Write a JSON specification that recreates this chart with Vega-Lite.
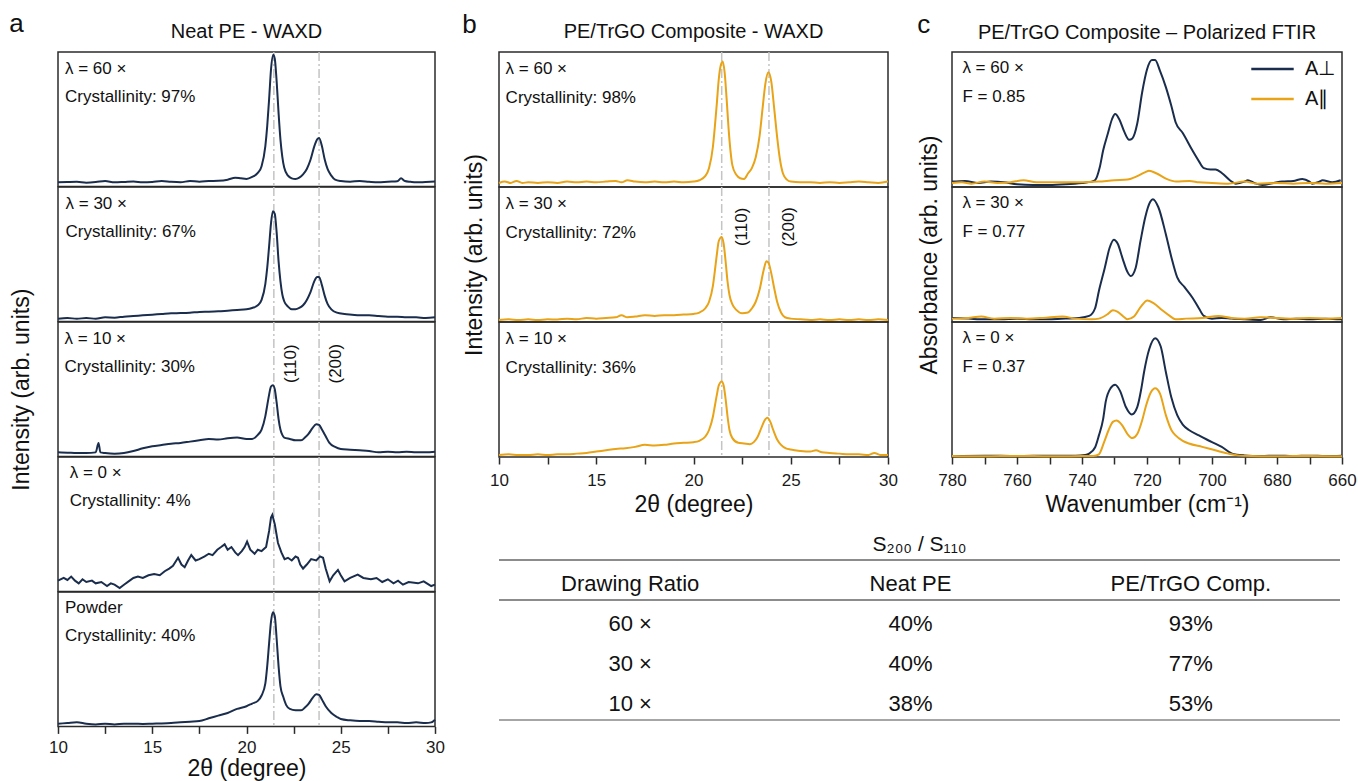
{
"$schema": "https://vega.github.io/schema/vega-lite/v6.json",
"padding": {"left": 9, "top": 10, "right": 0, "bottom": 0},
"config": {
  "font": "Liberation Sans",
  "view": {"stroke": "#2b2b2b", "strokeWidth": 1.5},
  "axis": {"grid": false, "domain": false, "tickColor": "#2b2b2b", "tickWidth": 1.5, "tickSize": 7, "labelFontSize": 17, "labelColor": "#1a1a1a", "labelPadding": 5, "labelFlush": false, "labelOverlap": false, "titleFontSize": 23, "titleFontWeight": "normal", "titleColor": "#111", "titlePadding": 3},
  "title": {"fontWeight": "normal", "fontSize": 20, "color": "#111"},
  "text": {"font": "Liberation Sans", "fontSize": 17, "color": "#111"}
},
"datasets": {
  "refsA": [{"twotheta": 21.45, "hkl": "(110)"}, {"twotheta": 23.85, "hkl": "(200)"}],
  "refsB": [{"twotheta": 21.45, "hkl": "(110)"}, {"twotheta": 23.88, "hkl": "(200)"}],
  "notes": [
    {"sample": "PE 60x", "note": "λ = 60 ×\nCrystallinity: 97%"},
    {"sample": "PE 30x", "note": "λ = 30 ×\nCrystallinity: 67%"},
    {"sample": "PE 10x", "note": "λ = 10 ×\nCrystallinity: 30%"},
    {"sample": "PE 0x", "note": "λ = 0 ×\nCrystallinity: 4%"},
    {"sample": "PE powder", "note": "Powder\nCrystallinity: 40%"},
    {"sample": "Comp 60x", "note": "λ = 60 ×\nCrystallinity: 98%"},
    {"sample": "Comp 30x", "note": "λ = 30 ×\nCrystallinity: 72%"},
    {"sample": "Comp 10x", "note": "λ = 10 ×\nCrystallinity: 36%"},
    {"sample": "FTIR 60x", "note": "λ = 60 ×\nF = 0.85"},
    {"sample": "FTIR 30x", "note": "λ = 30 ×\nF = 0.77"},
    {"sample": "FTIR 0x", "note": "λ = 0 ×\nF = 0.37"}
  ],
  "table": [
    {"row": "header", "col": "ratio", "text": "Drawing Ratio"},
    {"row": "header", "col": "neat", "text": "Neat PE"},
    {"row": "header", "col": "comp", "text": "PE/TrGO Comp."},
    {"row": "60", "col": "ratio", "text": "60 ×"},
    {"row": "60", "col": "neat", "text": "40%"},
    {"row": "60", "col": "comp", "text": "93%"},
    {"row": "30", "col": "ratio", "text": "30 ×"},
    {"row": "30", "col": "neat", "text": "40%"},
    {"row": "30", "col": "comp", "text": "77%"},
    {"row": "10", "col": "ratio", "text": "10 ×"},
    {"row": "10", "col": "neat", "text": "38%"},
    {"row": "10", "col": "comp", "text": "53%"}
  ],
  "tableRules": [{"row": "header", "edge": "top"}, {"row": "60", "edge": "top"}, {"row": "10", "edge": "bottom"}],
  "waxd": [
    {"sample":"PE 60x","twotheta":10,"intensity":0.03},{"sample":"PE 60x","twotheta":10.5,"intensity":0.033},{"sample":"PE 60x","twotheta":11,"intensity":0.035},{"sample":"PE 60x","twotheta":11.5,"intensity":0.028},{"sample":"PE 60x","twotheta":12,"intensity":0.032},{"sample":"PE 60x","twotheta":12.5,"intensity":0.04},{"sample":"PE 60x","twotheta":13,"intensity":0.03},{"sample":"PE 60x","twotheta":13.5,"intensity":0.033},{"sample":"PE 60x","twotheta":14,"intensity":0.037},{"sample":"PE 60x","twotheta":14.5,"intensity":0.03},{"sample":"PE 60x","twotheta":15,"intensity":0.033},{"sample":"PE 60x","twotheta":15.5,"intensity":0.04},{"sample":"PE 60x","twotheta":16,"intensity":0.034},{"sample":"PE 60x","twotheta":16.5,"intensity":0.031},{"sample":"PE 60x","twotheta":17,"intensity":0.04},{"sample":"PE 60x","twotheta":17.5,"intensity":0.035},{"sample":"PE 60x","twotheta":18,"intensity":0.04},{"sample":"PE 60x","twotheta":18.5,"intensity":0.042},{"sample":"PE 60x","twotheta":19,"intensity":0.05},{"sample":"PE 60x","twotheta":19.4,"intensity":0.065},{"sample":"PE 60x","twotheta":19.7,"intensity":0.06},{"sample":"PE 60x","twotheta":20,"intensity":0.055},{"sample":"PE 60x","twotheta":20.3,"intensity":0.07},{"sample":"PE 60x","twotheta":20.6,"intensity":0.1},{"sample":"PE 60x","twotheta":20.8,"intensity":0.15},{"sample":"PE 60x","twotheta":21,"intensity":0.3},{"sample":"PE 60x","twotheta":21.1,"intensity":0.45},{"sample":"PE 60x","twotheta":21.2,"intensity":0.65},{"sample":"PE 60x","twotheta":21.3,"intensity":0.87},{"sample":"PE 60x","twotheta":21.42,"intensity":0.98},{"sample":"PE 60x","twotheta":21.5,"intensity":0.95},{"sample":"PE 60x","twotheta":21.6,"intensity":0.78},{"sample":"PE 60x","twotheta":21.7,"intensity":0.55},{"sample":"PE 60x","twotheta":21.8,"intensity":0.35},{"sample":"PE 60x","twotheta":21.9,"intensity":0.22},{"sample":"PE 60x","twotheta":22,"intensity":0.14},{"sample":"PE 60x","twotheta":22.2,"intensity":0.08},{"sample":"PE 60x","twotheta":22.4,"intensity":0.06},{"sample":"PE 60x","twotheta":22.6,"intensity":0.055},{"sample":"PE 60x","twotheta":22.8,"intensity":0.065},{"sample":"PE 60x","twotheta":23,"intensity":0.09},{"sample":"PE 60x","twotheta":23.2,"intensity":0.13},{"sample":"PE 60x","twotheta":23.4,"intensity":0.2},{"sample":"PE 60x","twotheta":23.6,"intensity":0.3},{"sample":"PE 60x","twotheta":23.75,"intensity":0.35},{"sample":"PE 60x","twotheta":23.85,"intensity":0.36},{"sample":"PE 60x","twotheta":24,"intensity":0.3},{"sample":"PE 60x","twotheta":24.15,"intensity":0.2},{"sample":"PE 60x","twotheta":24.3,"intensity":0.13},{"sample":"PE 60x","twotheta":24.5,"intensity":0.08},{"sample":"PE 60x","twotheta":24.7,"intensity":0.05},{"sample":"PE 60x","twotheta":25,"intensity":0.04},{"sample":"PE 60x","twotheta":25.5,"intensity":0.035},{"sample":"PE 60x","twotheta":26,"intensity":0.04},{"sample":"PE 60x","twotheta":26.5,"intensity":0.034},{"sample":"PE 60x","twotheta":27,"intensity":0.03},{"sample":"PE 60x","twotheta":27.5,"intensity":0.035},{"sample":"PE 60x","twotheta":28,"intensity":0.038},{"sample":"PE 60x","twotheta":28.2,"intensity":0.06},{"sample":"PE 60x","twotheta":28.4,"intensity":0.04},{"sample":"PE 60x","twotheta":28.7,"intensity":0.034},{"sample":"PE 60x","twotheta":29,"intensity":0.03},{"sample":"PE 60x","twotheta":29.5,"intensity":0.033},{"sample":"PE 60x","twotheta":30,"intensity":0.036},

    {"sample":"PE 30x","twotheta":10,"intensity":0.02},{"sample":"PE 30x","twotheta":10.5,"intensity":0.025},{"sample":"PE 30x","twotheta":11,"intensity":0.02},{"sample":"PE 30x","twotheta":11.5,"intensity":0.025},{"sample":"PE 30x","twotheta":12,"intensity":0.02},{"sample":"PE 30x","twotheta":12.5,"intensity":0.03},{"sample":"PE 30x","twotheta":13,"intensity":0.028},{"sample":"PE 30x","twotheta":13.5,"intensity":0.035},{"sample":"PE 30x","twotheta":14,"intensity":0.04},{"sample":"PE 30x","twotheta":14.5,"intensity":0.045},{"sample":"PE 30x","twotheta":15,"intensity":0.05},{"sample":"PE 30x","twotheta":15.5,"intensity":0.055},{"sample":"PE 30x","twotheta":16,"intensity":0.06},{"sample":"PE 30x","twotheta":16.5,"intensity":0.062},{"sample":"PE 30x","twotheta":17,"intensity":0.065},{"sample":"PE 30x","twotheta":17.5,"intensity":0.07},{"sample":"PE 30x","twotheta":18,"intensity":0.072},{"sample":"PE 30x","twotheta":18.5,"intensity":0.075},{"sample":"PE 30x","twotheta":19,"intensity":0.08},{"sample":"PE 30x","twotheta":19.5,"intensity":0.085},{"sample":"PE 30x","twotheta":20,"intensity":0.09},{"sample":"PE 30x","twotheta":20.3,"intensity":0.1},{"sample":"PE 30x","twotheta":20.6,"intensity":0.12},{"sample":"PE 30x","twotheta":20.8,"intensity":0.16},{"sample":"PE 30x","twotheta":21,"intensity":0.28},{"sample":"PE 30x","twotheta":21.1,"intensity":0.4},{"sample":"PE 30x","twotheta":21.2,"intensity":0.56},{"sample":"PE 30x","twotheta":21.3,"intensity":0.73},{"sample":"PE 30x","twotheta":21.4,"intensity":0.82},{"sample":"PE 30x","twotheta":21.5,"intensity":0.8},{"sample":"PE 30x","twotheta":21.6,"intensity":0.66},{"sample":"PE 30x","twotheta":21.7,"intensity":0.45},{"sample":"PE 30x","twotheta":21.8,"intensity":0.3},{"sample":"PE 30x","twotheta":21.9,"intensity":0.2},{"sample":"PE 30x","twotheta":22,"intensity":0.15},{"sample":"PE 30x","twotheta":22.2,"intensity":0.11},{"sample":"PE 30x","twotheta":22.4,"intensity":0.09},{"sample":"PE 30x","twotheta":22.6,"intensity":0.09},{"sample":"PE 30x","twotheta":22.8,"intensity":0.1},{"sample":"PE 30x","twotheta":23,"intensity":0.12},{"sample":"PE 30x","twotheta":23.2,"intensity":0.16},{"sample":"PE 30x","twotheta":23.4,"intensity":0.22},{"sample":"PE 30x","twotheta":23.6,"intensity":0.3},{"sample":"PE 30x","twotheta":23.75,"intensity":0.33},{"sample":"PE 30x","twotheta":23.85,"intensity":0.33},{"sample":"PE 30x","twotheta":24,"intensity":0.27},{"sample":"PE 30x","twotheta":24.15,"intensity":0.19},{"sample":"PE 30x","twotheta":24.3,"intensity":0.13},{"sample":"PE 30x","twotheta":24.5,"intensity":0.09},{"sample":"PE 30x","twotheta":24.8,"intensity":0.065},{"sample":"PE 30x","twotheta":25.2,"intensity":0.055},{"sample":"PE 30x","twotheta":25.6,"intensity":0.05},{"sample":"PE 30x","twotheta":26,"intensity":0.045},{"sample":"PE 30x","twotheta":26.5,"intensity":0.045},{"sample":"PE 30x","twotheta":27,"intensity":0.04},{"sample":"PE 30x","twotheta":27.5,"intensity":0.035},{"sample":"PE 30x","twotheta":28,"intensity":0.035},{"sample":"PE 30x","twotheta":28.5,"intensity":0.03},{"sample":"PE 30x","twotheta":29,"intensity":0.03},{"sample":"PE 30x","twotheta":29.5,"intensity":0.025},{"sample":"PE 30x","twotheta":30,"intensity":0.03},

    {"sample":"PE 10x","twotheta":10,"intensity":0.03},{"sample":"PE 10x","twotheta":10.5,"intensity":0.028},{"sample":"PE 10x","twotheta":11,"intensity":0.025},{"sample":"PE 10x","twotheta":11.5,"intensity":0.025},{"sample":"PE 10x","twotheta":12,"intensity":0.03},{"sample":"PE 10x","twotheta":12.15,"intensity":0.1},{"sample":"PE 10x","twotheta":12.25,"intensity":0.03},{"sample":"PE 10x","twotheta":12.5,"intensity":0.025},{"sample":"PE 10x","twotheta":13,"intensity":0.02},{"sample":"PE 10x","twotheta":13.5,"intensity":0.025},{"sample":"PE 10x","twotheta":14,"intensity":0.04},{"sample":"PE 10x","twotheta":14.5,"intensity":0.06},{"sample":"PE 10x","twotheta":15,"intensity":0.075},{"sample":"PE 10x","twotheta":15.5,"intensity":0.085},{"sample":"PE 10x","twotheta":16,"intensity":0.095},{"sample":"PE 10x","twotheta":16.5,"intensity":0.1},{"sample":"PE 10x","twotheta":17,"intensity":0.11},{"sample":"PE 10x","twotheta":17.5,"intensity":0.12},{"sample":"PE 10x","twotheta":18,"intensity":0.13},{"sample":"PE 10x","twotheta":18.5,"intensity":0.125},{"sample":"PE 10x","twotheta":19,"intensity":0.135},{"sample":"PE 10x","twotheta":19.5,"intensity":0.14},{"sample":"PE 10x","twotheta":20,"intensity":0.13},{"sample":"PE 10x","twotheta":20.3,"intensity":0.13},{"sample":"PE 10x","twotheta":20.6,"intensity":0.16},{"sample":"PE 10x","twotheta":20.8,"intensity":0.2},{"sample":"PE 10x","twotheta":21,"intensity":0.3},{"sample":"PE 10x","twotheta":21.1,"intensity":0.38},{"sample":"PE 10x","twotheta":21.2,"intensity":0.46},{"sample":"PE 10x","twotheta":21.3,"intensity":0.52},{"sample":"PE 10x","twotheta":21.4,"intensity":0.53},{"sample":"PE 10x","twotheta":21.5,"intensity":0.5},{"sample":"PE 10x","twotheta":21.6,"intensity":0.4},{"sample":"PE 10x","twotheta":21.7,"intensity":0.28},{"sample":"PE 10x","twotheta":21.8,"intensity":0.2},{"sample":"PE 10x","twotheta":21.9,"intensity":0.16},{"sample":"PE 10x","twotheta":22,"intensity":0.14},{"sample":"PE 10x","twotheta":22.3,"intensity":0.13},{"sample":"PE 10x","twotheta":22.6,"intensity":0.12},{"sample":"PE 10x","twotheta":22.9,"intensity":0.12},{"sample":"PE 10x","twotheta":23.1,"intensity":0.14},{"sample":"PE 10x","twotheta":23.3,"intensity":0.17},{"sample":"PE 10x","twotheta":23.5,"intensity":0.21},{"sample":"PE 10x","twotheta":23.7,"intensity":0.24},{"sample":"PE 10x","twotheta":23.85,"intensity":0.235},{"sample":"PE 10x","twotheta":24,"intensity":0.2},{"sample":"PE 10x","twotheta":24.2,"intensity":0.15},{"sample":"PE 10x","twotheta":24.4,"intensity":0.1},{"sample":"PE 10x","twotheta":24.7,"intensity":0.07},{"sample":"PE 10x","twotheta":25,"intensity":0.055},{"sample":"PE 10x","twotheta":25.5,"intensity":0.05},{"sample":"PE 10x","twotheta":26,"intensity":0.045},{"sample":"PE 10x","twotheta":26.5,"intensity":0.04},{"sample":"PE 10x","twotheta":27,"intensity":0.03},{"sample":"PE 10x","twotheta":27.5,"intensity":0.035},{"sample":"PE 10x","twotheta":28,"intensity":0.03},{"sample":"PE 10x","twotheta":28.5,"intensity":0.035},{"sample":"PE 10x","twotheta":29,"intensity":0.03},{"sample":"PE 10x","twotheta":29.5,"intensity":0.03},{"sample":"PE 10x","twotheta":30,"intensity":0.035},

    {"sample":"PE 0x","twotheta":10,"intensity":0.08},{"sample":"PE 0x","twotheta":10.3,"intensity":0.1},{"sample":"PE 0x","twotheta":10.5,"intensity":0.085},{"sample":"PE 0x","twotheta":10.7,"intensity":0.11},{"sample":"PE 0x","twotheta":10.9,"intensity":0.08},{"sample":"PE 0x","twotheta":11.1,"intensity":0.06},{"sample":"PE 0x","twotheta":11.3,"intensity":0.09},{"sample":"PE 0x","twotheta":11.5,"intensity":0.07},{"sample":"PE 0x","twotheta":11.8,"intensity":0.08},{"sample":"PE 0x","twotheta":12,"intensity":0.06},{"sample":"PE 0x","twotheta":12.3,"intensity":0.07},{"sample":"PE 0x","twotheta":12.6,"intensity":0.04},{"sample":"PE 0x","twotheta":12.8,"intensity":0.06},{"sample":"PE 0x","twotheta":13,"intensity":0.05},{"sample":"PE 0x","twotheta":13.27,"intensity":0.025},{"sample":"PE 0x","twotheta":13.5,"intensity":0.05},{"sample":"PE 0x","twotheta":13.8,"intensity":0.08},{"sample":"PE 0x","twotheta":14,"intensity":0.1},{"sample":"PE 0x","twotheta":14.24,"intensity":0.11},{"sample":"PE 0x","twotheta":14.5,"intensity":0.1},{"sample":"PE 0x","twotheta":14.8,"intensity":0.12},{"sample":"PE 0x","twotheta":15.1,"intensity":0.13},{"sample":"PE 0x","twotheta":15.4,"intensity":0.12},{"sample":"PE 0x","twotheta":15.66,"intensity":0.15},{"sample":"PE 0x","twotheta":15.9,"intensity":0.17},{"sample":"PE 0x","twotheta":16.1,"intensity":0.19},{"sample":"PE 0x","twotheta":16.37,"intensity":0.25},{"sample":"PE 0x","twotheta":16.55,"intensity":0.2},{"sample":"PE 0x","twotheta":16.72,"intensity":0.18},{"sample":"PE 0x","twotheta":16.9,"intensity":0.23},{"sample":"PE 0x","twotheta":17.07,"intensity":0.27},{"sample":"PE 0x","twotheta":17.3,"intensity":0.23},{"sample":"PE 0x","twotheta":17.5,"intensity":0.24},{"sample":"PE 0x","twotheta":17.78,"intensity":0.26},{"sample":"PE 0x","twotheta":18,"intensity":0.28},{"sample":"PE 0x","twotheta":18.2,"intensity":0.27},{"sample":"PE 0x","twotheta":18.45,"intensity":0.31},{"sample":"PE 0x","twotheta":18.65,"intensity":0.33},{"sample":"PE 0x","twotheta":18.84,"intensity":0.35},{"sample":"PE 0x","twotheta":19,"intensity":0.31},{"sample":"PE 0x","twotheta":19.2,"intensity":0.33},{"sample":"PE 0x","twotheta":19.4,"intensity":0.29},{"sample":"PE 0x","twotheta":19.55,"intensity":0.27},{"sample":"PE 0x","twotheta":19.75,"intensity":0.3},{"sample":"PE 0x","twotheta":19.9,"intensity":0.33},{"sample":"PE 0x","twotheta":20.03,"intensity":0.37},{"sample":"PE 0x","twotheta":20.2,"intensity":0.31},{"sample":"PE 0x","twotheta":20.43,"intensity":0.28},{"sample":"PE 0x","twotheta":20.6,"intensity":0.31},{"sample":"PE 0x","twotheta":20.8,"intensity":0.3},{"sample":"PE 0x","twotheta":21.04,"intensity":0.33},{"sample":"PE 0x","twotheta":21.2,"intensity":0.45},{"sample":"PE 0x","twotheta":21.3,"intensity":0.55},{"sample":"PE 0x","twotheta":21.37,"intensity":0.57},{"sample":"PE 0x","twotheta":21.5,"intensity":0.5},{"sample":"PE 0x","twotheta":21.67,"intensity":0.36},{"sample":"PE 0x","twotheta":21.85,"intensity":0.29},{"sample":"PE 0x","twotheta":22.02,"intensity":0.24},{"sample":"PE 0x","twotheta":22.2,"intensity":0.25},{"sample":"PE 0x","twotheta":22.4,"intensity":0.23},{"sample":"PE 0x","twotheta":22.6,"intensity":0.26},{"sample":"PE 0x","twotheta":22.73,"intensity":0.25},{"sample":"PE 0x","twotheta":22.85,"intensity":0.2},{"sample":"PE 0x","twotheta":23,"intensity":0.17},{"sample":"PE 0x","twotheta":23.2,"intensity":0.2},{"sample":"PE 0x","twotheta":23.43,"intensity":0.24},{"sample":"PE 0x","twotheta":23.7,"intensity":0.23},{"sample":"PE 0x","twotheta":23.9,"intensity":0.26},{"sample":"PE 0x","twotheta":24.06,"intensity":0.25},{"sample":"PE 0x","twotheta":24.2,"intensity":0.17},{"sample":"PE 0x","twotheta":24.41,"intensity":0.075},{"sample":"PE 0x","twotheta":24.6,"intensity":0.12},{"sample":"PE 0x","twotheta":24.85,"intensity":0.16},{"sample":"PE 0x","twotheta":25,"intensity":0.12},{"sample":"PE 0x","twotheta":25.2,"intensity":0.075},{"sample":"PE 0x","twotheta":25.5,"intensity":0.1},{"sample":"PE 0x","twotheta":25.9,"intensity":0.125},{"sample":"PE 0x","twotheta":26.2,"intensity":0.1},{"sample":"PE 0x","twotheta":26.6,"intensity":0.09},{"sample":"PE 0x","twotheta":26.9,"intensity":0.1},{"sample":"PE 0x","twotheta":27.2,"intensity":0.07},{"sample":"PE 0x","twotheta":27.5,"intensity":0.09},{"sample":"PE 0x","twotheta":27.8,"intensity":0.06},{"sample":"PE 0x","twotheta":28.04,"intensity":0.08},{"sample":"PE 0x","twotheta":28.3,"intensity":0.05},{"sample":"PE 0x","twotheta":28.6,"intensity":0.07},{"sample":"PE 0x","twotheta":29.1,"intensity":0.06},{"sample":"PE 0x","twotheta":29.4,"intensity":0.075},{"sample":"PE 0x","twotheta":29.8,"intensity":0.04},{"sample":"PE 0x","twotheta":30,"intensity":0.05},

    {"sample":"PE powder","twotheta":10,"intensity":0.02},{"sample":"PE powder","twotheta":10.5,"intensity":0.025},{"sample":"PE powder","twotheta":11,"intensity":0.03},{"sample":"PE powder","twotheta":11.5,"intensity":0.02},{"sample":"PE powder","twotheta":12,"intensity":0.015},{"sample":"PE powder","twotheta":12.5,"intensity":0.02},{"sample":"PE powder","twotheta":13,"intensity":0.015},{"sample":"PE powder","twotheta":13.5,"intensity":0.02},{"sample":"PE powder","twotheta":14,"intensity":0.02},{"sample":"PE powder","twotheta":14.5,"intensity":0.018},{"sample":"PE powder","twotheta":15,"intensity":0.02},{"sample":"PE powder","twotheta":15.5,"intensity":0.022},{"sample":"PE powder","twotheta":16,"intensity":0.025},{"sample":"PE powder","twotheta":16.5,"intensity":0.03},{"sample":"PE powder","twotheta":17,"intensity":0.035},{"sample":"PE powder","twotheta":17.5,"intensity":0.04},{"sample":"PE powder","twotheta":18,"intensity":0.06},{"sample":"PE powder","twotheta":18.5,"intensity":0.08},{"sample":"PE powder","twotheta":19,"intensity":0.1},{"sample":"PE powder","twotheta":19.5,"intensity":0.13},{"sample":"PE powder","twotheta":20,"intensity":0.15},{"sample":"PE powder","twotheta":20.3,"intensity":0.17},{"sample":"PE powder","twotheta":20.6,"intensity":0.19},{"sample":"PE powder","twotheta":20.8,"intensity":0.23},{"sample":"PE powder","twotheta":21,"intensity":0.32},{"sample":"PE powder","twotheta":21.1,"intensity":0.45},{"sample":"PE powder","twotheta":21.2,"intensity":0.62},{"sample":"PE powder","twotheta":21.3,"intensity":0.78},{"sample":"PE powder","twotheta":21.4,"intensity":0.85},{"sample":"PE powder","twotheta":21.5,"intensity":0.82},{"sample":"PE powder","twotheta":21.6,"intensity":0.65},{"sample":"PE powder","twotheta":21.7,"intensity":0.45},{"sample":"PE powder","twotheta":21.8,"intensity":0.3},{"sample":"PE powder","twotheta":21.95,"intensity":0.22},{"sample":"PE powder","twotheta":22.1,"intensity":0.16},{"sample":"PE powder","twotheta":22.3,"intensity":0.13},{"sample":"PE powder","twotheta":22.6,"intensity":0.12},{"sample":"PE powder","twotheta":22.9,"intensity":0.12},{"sample":"PE powder","twotheta":23.1,"intensity":0.14},{"sample":"PE powder","twotheta":23.3,"intensity":0.17},{"sample":"PE powder","twotheta":23.5,"intensity":0.21},{"sample":"PE powder","twotheta":23.7,"intensity":0.24},{"sample":"PE powder","twotheta":23.85,"intensity":0.235},{"sample":"PE powder","twotheta":24,"intensity":0.2},{"sample":"PE powder","twotheta":24.2,"intensity":0.15},{"sample":"PE powder","twotheta":24.5,"intensity":0.1},{"sample":"PE powder","twotheta":24.8,"intensity":0.07},{"sample":"PE powder","twotheta":25,"intensity":0.055},{"sample":"PE powder","twotheta":25.5,"intensity":0.045},{"sample":"PE powder","twotheta":26,"intensity":0.04},{"sample":"PE powder","twotheta":26.5,"intensity":0.04},{"sample":"PE powder","twotheta":27,"intensity":0.035},{"sample":"PE powder","twotheta":27.5,"intensity":0.03},{"sample":"PE powder","twotheta":28,"intensity":0.03},{"sample":"PE powder","twotheta":28.5,"intensity":0.025},{"sample":"PE powder","twotheta":29,"intensity":0.03},{"sample":"PE powder","twotheta":29.5,"intensity":0.025},{"sample":"PE powder","twotheta":29.8,"intensity":0.03},{"sample":"PE powder","twotheta":30,"intensity":0.05},

    {"sample":"Comp 60x","twotheta":10,"intensity":0.03},{"sample":"Comp 60x","twotheta":10.3,"intensity":0.04},{"sample":"Comp 60x","twotheta":10.6,"intensity":0.03},{"sample":"Comp 60x","twotheta":10.9,"intensity":0.045},{"sample":"Comp 60x","twotheta":11.2,"intensity":0.03},{"sample":"Comp 60x","twotheta":11.5,"intensity":0.035},{"sample":"Comp 60x","twotheta":12,"intensity":0.03},{"sample":"Comp 60x","twotheta":12.5,"intensity":0.035},{"sample":"Comp 60x","twotheta":13,"intensity":0.03},{"sample":"Comp 60x","twotheta":13.5,"intensity":0.04},{"sample":"Comp 60x","twotheta":14,"intensity":0.035},{"sample":"Comp 60x","twotheta":14.5,"intensity":0.04},{"sample":"Comp 60x","twotheta":15,"intensity":0.035},{"sample":"Comp 60x","twotheta":15.5,"intensity":0.04},{"sample":"Comp 60x","twotheta":16,"intensity":0.045},{"sample":"Comp 60x","twotheta":16.3,"intensity":0.035},{"sample":"Comp 60x","twotheta":16.6,"intensity":0.05},{"sample":"Comp 60x","twotheta":17,"intensity":0.04},{"sample":"Comp 60x","twotheta":17.5,"intensity":0.035},{"sample":"Comp 60x","twotheta":18,"intensity":0.04},{"sample":"Comp 60x","twotheta":18.5,"intensity":0.035},{"sample":"Comp 60x","twotheta":19,"intensity":0.04},{"sample":"Comp 60x","twotheta":19.5,"intensity":0.035},{"sample":"Comp 60x","twotheta":20,"intensity":0.04},{"sample":"Comp 60x","twotheta":20.3,"intensity":0.05},{"sample":"Comp 60x","twotheta":20.6,"intensity":0.08},{"sample":"Comp 60x","twotheta":20.8,"intensity":0.14},{"sample":"Comp 60x","twotheta":21,"intensity":0.3},{"sample":"Comp 60x","twotheta":21.1,"intensity":0.45},{"sample":"Comp 60x","twotheta":21.2,"intensity":0.62},{"sample":"Comp 60x","twotheta":21.3,"intensity":0.8},{"sample":"Comp 60x","twotheta":21.4,"intensity":0.9},{"sample":"Comp 60x","twotheta":21.5,"intensity":0.93},{"sample":"Comp 60x","twotheta":21.6,"intensity":0.85},{"sample":"Comp 60x","twotheta":21.7,"intensity":0.66},{"sample":"Comp 60x","twotheta":21.8,"intensity":0.44},{"sample":"Comp 60x","twotheta":21.9,"intensity":0.27},{"sample":"Comp 60x","twotheta":22,"intensity":0.16},{"sample":"Comp 60x","twotheta":22.2,"intensity":0.09},{"sample":"Comp 60x","twotheta":22.4,"intensity":0.065},{"sample":"Comp 60x","twotheta":22.6,"intensity":0.06},{"sample":"Comp 60x","twotheta":22.8,"intensity":0.1},{"sample":"Comp 60x","twotheta":23,"intensity":0.14},{"sample":"Comp 60x","twotheta":23.2,"intensity":0.22},{"sample":"Comp 60x","twotheta":23.4,"intensity":0.38},{"sample":"Comp 60x","twotheta":23.55,"intensity":0.58},{"sample":"Comp 60x","twotheta":23.7,"intensity":0.77},{"sample":"Comp 60x","twotheta":23.85,"intensity":0.85},{"sample":"Comp 60x","twotheta":24,"intensity":0.78},{"sample":"Comp 60x","twotheta":24.15,"intensity":0.58},{"sample":"Comp 60x","twotheta":24.3,"intensity":0.37},{"sample":"Comp 60x","twotheta":24.45,"intensity":0.2},{"sample":"Comp 60x","twotheta":24.6,"intensity":0.1},{"sample":"Comp 60x","twotheta":24.8,"intensity":0.055},{"sample":"Comp 60x","twotheta":25,"intensity":0.04},{"sample":"Comp 60x","twotheta":25.5,"intensity":0.035},{"sample":"Comp 60x","twotheta":26,"intensity":0.035},{"sample":"Comp 60x","twotheta":26.5,"intensity":0.03},{"sample":"Comp 60x","twotheta":27,"intensity":0.035},{"sample":"Comp 60x","twotheta":27.5,"intensity":0.03},{"sample":"Comp 60x","twotheta":28,"intensity":0.035},{"sample":"Comp 60x","twotheta":28.5,"intensity":0.04},{"sample":"Comp 60x","twotheta":29,"intensity":0.035},{"sample":"Comp 60x","twotheta":29.5,"intensity":0.03},{"sample":"Comp 60x","twotheta":30,"intensity":0.04},

    {"sample":"Comp 30x","twotheta":10,"intensity":0.015},{"sample":"Comp 30x","twotheta":10.5,"intensity":0.02},{"sample":"Comp 30x","twotheta":11,"intensity":0.015},{"sample":"Comp 30x","twotheta":11.5,"intensity":0.02},{"sample":"Comp 30x","twotheta":12,"intensity":0.015},{"sample":"Comp 30x","twotheta":12.5,"intensity":0.02},{"sample":"Comp 30x","twotheta":13,"intensity":0.018},{"sample":"Comp 30x","twotheta":13.5,"intensity":0.025},{"sample":"Comp 30x","twotheta":14,"intensity":0.02},{"sample":"Comp 30x","twotheta":14.5,"intensity":0.03},{"sample":"Comp 30x","twotheta":15,"intensity":0.025},{"sample":"Comp 30x","twotheta":15.5,"intensity":0.03},{"sample":"Comp 30x","twotheta":16,"intensity":0.035},{"sample":"Comp 30x","twotheta":16.3,"intensity":0.05},{"sample":"Comp 30x","twotheta":16.6,"intensity":0.035},{"sample":"Comp 30x","twotheta":17,"intensity":0.04},{"sample":"Comp 30x","twotheta":17.5,"intensity":0.05},{"sample":"Comp 30x","twotheta":18,"intensity":0.045},{"sample":"Comp 30x","twotheta":18.5,"intensity":0.05},{"sample":"Comp 30x","twotheta":19,"intensity":0.05},{"sample":"Comp 30x","twotheta":19.5,"intensity":0.055},{"sample":"Comp 30x","twotheta":20,"intensity":0.06},{"sample":"Comp 30x","twotheta":20.3,"intensity":0.07},{"sample":"Comp 30x","twotheta":20.6,"intensity":0.1},{"sample":"Comp 30x","twotheta":20.8,"intensity":0.15},{"sample":"Comp 30x","twotheta":21,"intensity":0.27},{"sample":"Comp 30x","twotheta":21.1,"intensity":0.38},{"sample":"Comp 30x","twotheta":21.2,"intensity":0.5},{"sample":"Comp 30x","twotheta":21.3,"intensity":0.6},{"sample":"Comp 30x","twotheta":21.45,"intensity":0.63},{"sample":"Comp 30x","twotheta":21.55,"intensity":0.58},{"sample":"Comp 30x","twotheta":21.65,"intensity":0.45},{"sample":"Comp 30x","twotheta":21.75,"intensity":0.3},{"sample":"Comp 30x","twotheta":21.85,"intensity":0.2},{"sample":"Comp 30x","twotheta":22,"intensity":0.13},{"sample":"Comp 30x","twotheta":22.2,"intensity":0.09},{"sample":"Comp 30x","twotheta":22.5,"intensity":0.065},{"sample":"Comp 30x","twotheta":22.8,"intensity":0.07},{"sample":"Comp 30x","twotheta":23,"intensity":0.1},{"sample":"Comp 30x","twotheta":23.2,"intensity":0.15},{"sample":"Comp 30x","twotheta":23.4,"intensity":0.24},{"sample":"Comp 30x","twotheta":23.6,"intensity":0.38},{"sample":"Comp 30x","twotheta":23.75,"intensity":0.45},{"sample":"Comp 30x","twotheta":23.85,"intensity":0.44},{"sample":"Comp 30x","twotheta":24,"intensity":0.36},{"sample":"Comp 30x","twotheta":24.15,"intensity":0.25},{"sample":"Comp 30x","twotheta":24.3,"intensity":0.15},{"sample":"Comp 30x","twotheta":24.5,"intensity":0.07},{"sample":"Comp 30x","twotheta":24.7,"intensity":0.035},{"sample":"Comp 30x","twotheta":25,"intensity":0.025},{"sample":"Comp 30x","twotheta":25.5,"intensity":0.02},{"sample":"Comp 30x","twotheta":26,"intensity":0.015},{"sample":"Comp 30x","twotheta":26.5,"intensity":0.02},{"sample":"Comp 30x","twotheta":27,"intensity":0.015},{"sample":"Comp 30x","twotheta":27.5,"intensity":0.02},{"sample":"Comp 30x","twotheta":28,"intensity":0.015},{"sample":"Comp 30x","twotheta":28.5,"intensity":0.02},{"sample":"Comp 30x","twotheta":29,"intensity":0.015},{"sample":"Comp 30x","twotheta":29.5,"intensity":0.02},{"sample":"Comp 30x","twotheta":30,"intensity":0.015},

    {"sample":"Comp 10x","twotheta":10,"intensity":0.015},{"sample":"Comp 10x","twotheta":10.5,"intensity":0.02},{"sample":"Comp 10x","twotheta":11,"intensity":0.015},{"sample":"Comp 10x","twotheta":11.5,"intensity":0.015},{"sample":"Comp 10x","twotheta":12,"intensity":0.02},{"sample":"Comp 10x","twotheta":12.5,"intensity":0.015},{"sample":"Comp 10x","twotheta":13,"intensity":0.02},{"sample":"Comp 10x","twotheta":13.5,"intensity":0.02},{"sample":"Comp 10x","twotheta":14,"intensity":0.025},{"sample":"Comp 10x","twotheta":14.5,"intensity":0.03},{"sample":"Comp 10x","twotheta":15,"intensity":0.04},{"sample":"Comp 10x","twotheta":15.5,"intensity":0.05},{"sample":"Comp 10x","twotheta":16,"intensity":0.06},{"sample":"Comp 10x","twotheta":16.5,"intensity":0.065},{"sample":"Comp 10x","twotheta":17,"intensity":0.075},{"sample":"Comp 10x","twotheta":17.5,"intensity":0.09},{"sample":"Comp 10x","twotheta":18,"intensity":0.085},{"sample":"Comp 10x","twotheta":18.5,"intensity":0.09},{"sample":"Comp 10x","twotheta":19,"intensity":0.1},{"sample":"Comp 10x","twotheta":19.5,"intensity":0.105},{"sample":"Comp 10x","twotheta":20,"intensity":0.11},{"sample":"Comp 10x","twotheta":20.3,"intensity":0.12},{"sample":"Comp 10x","twotheta":20.6,"intensity":0.15},{"sample":"Comp 10x","twotheta":20.8,"intensity":0.2},{"sample":"Comp 10x","twotheta":21,"intensity":0.3},{"sample":"Comp 10x","twotheta":21.1,"intensity":0.38},{"sample":"Comp 10x","twotheta":21.2,"intensity":0.46},{"sample":"Comp 10x","twotheta":21.3,"intensity":0.53},{"sample":"Comp 10x","twotheta":21.45,"intensity":0.56},{"sample":"Comp 10x","twotheta":21.55,"intensity":0.53},{"sample":"Comp 10x","twotheta":21.65,"intensity":0.43},{"sample":"Comp 10x","twotheta":21.75,"intensity":0.3},{"sample":"Comp 10x","twotheta":21.85,"intensity":0.2},{"sample":"Comp 10x","twotheta":22,"intensity":0.14},{"sample":"Comp 10x","twotheta":22.3,"intensity":0.105},{"sample":"Comp 10x","twotheta":22.6,"intensity":0.1},{"sample":"Comp 10x","twotheta":22.9,"intensity":0.095},{"sample":"Comp 10x","twotheta":23.1,"intensity":0.11},{"sample":"Comp 10x","twotheta":23.3,"intensity":0.15},{"sample":"Comp 10x","twotheta":23.5,"intensity":0.22},{"sample":"Comp 10x","twotheta":23.7,"intensity":0.28},{"sample":"Comp 10x","twotheta":23.8,"intensity":0.29},{"sample":"Comp 10x","twotheta":23.95,"intensity":0.26},{"sample":"Comp 10x","twotheta":24.1,"intensity":0.2},{"sample":"Comp 10x","twotheta":24.3,"intensity":0.13},{"sample":"Comp 10x","twotheta":24.5,"intensity":0.09},{"sample":"Comp 10x","twotheta":24.75,"intensity":0.064},{"sample":"Comp 10x","twotheta":25,"intensity":0.055},{"sample":"Comp 10x","twotheta":25.5,"intensity":0.045},{"sample":"Comp 10x","twotheta":26,"intensity":0.04},{"sample":"Comp 10x","twotheta":26.3,"intensity":0.05},{"sample":"Comp 10x","twotheta":26.6,"intensity":0.035},{"sample":"Comp 10x","twotheta":27,"intensity":0.03},{"sample":"Comp 10x","twotheta":27.5,"intensity":0.025},{"sample":"Comp 10x","twotheta":28,"intensity":0.02},{"sample":"Comp 10x","twotheta":28.5,"intensity":0.02},{"sample":"Comp 10x","twotheta":29,"intensity":0.015},{"sample":"Comp 10x","twotheta":29.3,"intensity":0.03},{"sample":"Comp 10x","twotheta":29.6,"intensity":0.015},{"sample":"Comp 10x","twotheta":30,"intensity":0.015}
  ],
  "ftir": [
    {"sample":"FTIR 60x","polarization":"A⊥","wavenumber":780,"absorbance":0.04},{"sample":"FTIR 60x","polarization":"A⊥","wavenumber":776,"absorbance":0.045},{"sample":"FTIR 60x","polarization":"A⊥","wavenumber":772,"absorbance":0.03},{"sample":"FTIR 60x","polarization":"A⊥","wavenumber":768,"absorbance":0.04},{"sample":"FTIR 60x","polarization":"A⊥","wavenumber":764,"absorbance":0.035},{"sample":"FTIR 60x","polarization":"A⊥","wavenumber":760,"absorbance":0.02},{"sample":"FTIR 60x","polarization":"A⊥","wavenumber":755,"absorbance":0.015},{"sample":"FTIR 60x","polarization":"A⊥","wavenumber":750,"absorbance":0.015},{"sample":"FTIR 60x","polarization":"A⊥","wavenumber":745,"absorbance":0.02},{"sample":"FTIR 60x","polarization":"A⊥","wavenumber":740,"absorbance":0.03},{"sample":"FTIR 60x","polarization":"A⊥","wavenumber":737,"absorbance":0.04},{"sample":"FTIR 60x","polarization":"A⊥","wavenumber":736,"absorbance":0.05},{"sample":"FTIR 60x","polarization":"A⊥","wavenumber":734.5,"absorbance":0.15},{"sample":"FTIR 60x","polarization":"A⊥","wavenumber":733.5,"absorbance":0.27},{"sample":"FTIR 60x","polarization":"A⊥","wavenumber":732,"absorbance":0.4},{"sample":"FTIR 60x","polarization":"A⊥","wavenumber":730.8,"absorbance":0.5},{"sample":"FTIR 60x","polarization":"A⊥","wavenumber":729.8,"absorbance":0.54},{"sample":"FTIR 60x","polarization":"A⊥","wavenumber":728.5,"absorbance":0.5},{"sample":"FTIR 60x","polarization":"A⊥","wavenumber":727,"absorbance":0.41},{"sample":"FTIR 60x","polarization":"A⊥","wavenumber":725.5,"absorbance":0.35},{"sample":"FTIR 60x","polarization":"A⊥","wavenumber":724.5,"absorbance":0.36},{"sample":"FTIR 60x","polarization":"A⊥","wavenumber":723,"absorbance":0.47},{"sample":"FTIR 60x","polarization":"A⊥","wavenumber":721.5,"absorbance":0.7},{"sample":"FTIR 60x","polarization":"A⊥","wavenumber":720,"absorbance":0.87},{"sample":"FTIR 60x","polarization":"A⊥","wavenumber":718.5,"absorbance":0.94},{"sample":"FTIR 60x","polarization":"A⊥","wavenumber":717.5,"absorbance":0.94},{"sample":"FTIR 60x","polarization":"A⊥","wavenumber":716,"absorbance":0.86},{"sample":"FTIR 60x","polarization":"A⊥","wavenumber":714.2,"absorbance":0.74},{"sample":"FTIR 60x","polarization":"A⊥","wavenumber":712.5,"absorbance":0.6},{"sample":"FTIR 60x","polarization":"A⊥","wavenumber":711.2,"absorbance":0.48},{"sample":"FTIR 60x","polarization":"A⊥","wavenumber":709,"absorbance":0.4},{"sample":"FTIR 60x","polarization":"A⊥","wavenumber":706,"absorbance":0.27},{"sample":"FTIR 60x","polarization":"A⊥","wavenumber":704,"absorbance":0.19},{"sample":"FTIR 60x","polarization":"A⊥","wavenumber":702.5,"absorbance":0.14},{"sample":"FTIR 60x","polarization":"A⊥","wavenumber":700.5,"absorbance":0.13},{"sample":"FTIR 60x","polarization":"A⊥","wavenumber":698.9,"absorbance":0.13},{"sample":"FTIR 60x","polarization":"A⊥","wavenumber":696.8,"absorbance":0.1},{"sample":"FTIR 60x","polarization":"A⊥","wavenumber":694.5,"absorbance":0.05},{"sample":"FTIR 60x","polarization":"A⊥","wavenumber":692.7,"absorbance":0.025},{"sample":"FTIR 60x","polarization":"A⊥","wavenumber":690,"absorbance":0.04},{"sample":"FTIR 60x","polarization":"A⊥","wavenumber":689,"absorbance":0.05},{"sample":"FTIR 60x","polarization":"A⊥","wavenumber":687,"absorbance":0.03},{"sample":"FTIR 60x","polarization":"A⊥","wavenumber":684.5,"absorbance":0.015},{"sample":"FTIR 60x","polarization":"A⊥","wavenumber":681,"absorbance":0.03},{"sample":"FTIR 60x","polarization":"A⊥","wavenumber":678.4,"absorbance":0.04},{"sample":"FTIR 60x","polarization":"A⊥","wavenumber":675,"absorbance":0.045},{"sample":"FTIR 60x","polarization":"A⊥","wavenumber":672.2,"absorbance":0.06},{"sample":"FTIR 60x","polarization":"A⊥","wavenumber":670,"absorbance":0.04},{"sample":"FTIR 60x","polarization":"A⊥","wavenumber":669.2,"absorbance":0.025},{"sample":"FTIR 60x","polarization":"A⊥","wavenumber":667,"absorbance":0.04},{"sample":"FTIR 60x","polarization":"A⊥","wavenumber":666,"absorbance":0.05},{"sample":"FTIR 60x","polarization":"A⊥","wavenumber":663,"absorbance":0.035},{"sample":"FTIR 60x","polarization":"A⊥","wavenumber":660.4,"absorbance":0.05},

    {"sample":"FTIR 60x","polarization":"A∥","wavenumber":780,"absorbance":0.03},{"sample":"FTIR 60x","polarization":"A∥","wavenumber":777,"absorbance":0.035},{"sample":"FTIR 60x","polarization":"A∥","wavenumber":774,"absorbance":0.025},{"sample":"FTIR 60x","polarization":"A∥","wavenumber":770,"absorbance":0.04},{"sample":"FTIR 60x","polarization":"A∥","wavenumber":766,"absorbance":0.03},{"sample":"FTIR 60x","polarization":"A∥","wavenumber":762,"absorbance":0.035},{"sample":"FTIR 60x","polarization":"A∥","wavenumber":758,"absorbance":0.05},{"sample":"FTIR 60x","polarization":"A∥","wavenumber":754,"absorbance":0.035},{"sample":"FTIR 60x","polarization":"A∥","wavenumber":750,"absorbance":0.035},{"sample":"FTIR 60x","polarization":"A∥","wavenumber":745,"absorbance":0.035},{"sample":"FTIR 60x","polarization":"A∥","wavenumber":740,"absorbance":0.035},{"sample":"FTIR 60x","polarization":"A∥","wavenumber":735,"absorbance":0.04},{"sample":"FTIR 60x","polarization":"A∥","wavenumber":730,"absorbance":0.05},{"sample":"FTIR 60x","polarization":"A∥","wavenumber":726,"absorbance":0.055},{"sample":"FTIR 60x","polarization":"A∥","wavenumber":723,"absorbance":0.08},{"sample":"FTIR 60x","polarization":"A∥","wavenumber":720.5,"absorbance":0.11},{"sample":"FTIR 60x","polarization":"A∥","wavenumber":719.4,"absorbance":0.12},{"sample":"FTIR 60x","polarization":"A∥","wavenumber":717,"absorbance":0.1},{"sample":"FTIR 60x","polarization":"A∥","wavenumber":714,"absorbance":0.06},{"sample":"FTIR 60x","polarization":"A∥","wavenumber":711,"absorbance":0.04},{"sample":"FTIR 60x","polarization":"A∥","wavenumber":707,"absorbance":0.045},{"sample":"FTIR 60x","polarization":"A∥","wavenumber":704,"absorbance":0.035},{"sample":"FTIR 60x","polarization":"A∥","wavenumber":700,"absorbance":0.03},{"sample":"FTIR 60x","polarization":"A∥","wavenumber":695,"absorbance":0.025},{"sample":"FTIR 60x","polarization":"A∥","wavenumber":690,"absorbance":0.04},{"sample":"FTIR 60x","polarization":"A∥","wavenumber":686,"absorbance":0.025},{"sample":"FTIR 60x","polarization":"A∥","wavenumber":680,"absorbance":0.03},{"sample":"FTIR 60x","polarization":"A∥","wavenumber":675,"absorbance":0.025},{"sample":"FTIR 60x","polarization":"A∥","wavenumber":670,"absorbance":0.03},{"sample":"FTIR 60x","polarization":"A∥","wavenumber":665,"absorbance":0.025},{"sample":"FTIR 60x","polarization":"A∥","wavenumber":660,"absorbance":0.03},

    {"sample":"FTIR 30x","polarization":"A⊥","wavenumber":780,"absorbance":0.03},{"sample":"FTIR 30x","polarization":"A⊥","wavenumber":775,"absorbance":0.025},{"sample":"FTIR 30x","polarization":"A⊥","wavenumber":770,"absorbance":0.02},{"sample":"FTIR 30x","polarization":"A⊥","wavenumber":765,"absorbance":0.02},{"sample":"FTIR 30x","polarization":"A⊥","wavenumber":760,"absorbance":0.025},{"sample":"FTIR 30x","polarization":"A⊥","wavenumber":755,"absorbance":0.02},{"sample":"FTIR 30x","polarization":"A⊥","wavenumber":750,"absorbance":0.02},{"sample":"FTIR 30x","polarization":"A⊥","wavenumber":745,"absorbance":0.025},{"sample":"FTIR 30x","polarization":"A⊥","wavenumber":741,"absorbance":0.03},{"sample":"FTIR 30x","polarization":"A⊥","wavenumber":737.8,"absorbance":0.045},{"sample":"FTIR 30x","polarization":"A⊥","wavenumber":736,"absorbance":0.1},{"sample":"FTIR 30x","polarization":"A⊥","wavenumber":734.8,"absorbance":0.23},{"sample":"FTIR 30x","polarization":"A⊥","wavenumber":733,"absorbance":0.4},{"sample":"FTIR 30x","polarization":"A⊥","wavenumber":731.5,"absorbance":0.55},{"sample":"FTIR 30x","polarization":"A⊥","wavenumber":730.2,"absorbance":0.61},{"sample":"FTIR 30x","polarization":"A⊥","wavenumber":729,"absorbance":0.58},{"sample":"FTIR 30x","polarization":"A⊥","wavenumber":727.5,"absorbance":0.47},{"sample":"FTIR 30x","polarization":"A⊥","wavenumber":726,"absorbance":0.37},{"sample":"FTIR 30x","polarization":"A⊥","wavenumber":725,"absorbance":0.34},{"sample":"FTIR 30x","polarization":"A⊥","wavenumber":723.5,"absorbance":0.4},{"sample":"FTIR 30x","polarization":"A⊥","wavenumber":722,"absorbance":0.6},{"sample":"FTIR 30x","polarization":"A⊥","wavenumber":720.5,"absorbance":0.78},{"sample":"FTIR 30x","polarization":"A⊥","wavenumber":719,"absorbance":0.89},{"sample":"FTIR 30x","polarization":"A⊥","wavenumber":718.2,"absorbance":0.91},{"sample":"FTIR 30x","polarization":"A⊥","wavenumber":716.5,"absorbance":0.85},{"sample":"FTIR 30x","polarization":"A⊥","wavenumber":714.2,"absorbance":0.65},{"sample":"FTIR 30x","polarization":"A⊥","wavenumber":712.5,"absorbance":0.48},{"sample":"FTIR 30x","polarization":"A⊥","wavenumber":710.7,"absorbance":0.33},{"sample":"FTIR 30x","polarization":"A⊥","wavenumber":708.5,"absorbance":0.26},{"sample":"FTIR 30x","polarization":"A⊥","wavenumber":706,"absorbance":0.18},{"sample":"FTIR 30x","polarization":"A⊥","wavenumber":704,"absorbance":0.1},{"sample":"FTIR 30x","polarization":"A⊥","wavenumber":702.5,"absorbance":0.045},{"sample":"FTIR 30x","polarization":"A⊥","wavenumber":700,"absorbance":0.025},{"sample":"FTIR 30x","polarization":"A⊥","wavenumber":697,"absorbance":0.03},{"sample":"FTIR 30x","polarization":"A⊥","wavenumber":694,"absorbance":0.025},{"sample":"FTIR 30x","polarization":"A⊥","wavenumber":690,"absorbance":0.02},{"sample":"FTIR 30x","polarization":"A⊥","wavenumber":685,"absorbance":0.015},{"sample":"FTIR 30x","polarization":"A⊥","wavenumber":682,"absorbance":0.035},{"sample":"FTIR 30x","polarization":"A⊥","wavenumber":678,"absorbance":0.02},{"sample":"FTIR 30x","polarization":"A⊥","wavenumber":674,"absorbance":0.025},{"sample":"FTIR 30x","polarization":"A⊥","wavenumber":670,"absorbance":0.02},{"sample":"FTIR 30x","polarization":"A⊥","wavenumber":665,"absorbance":0.025},{"sample":"FTIR 30x","polarization":"A⊥","wavenumber":660,"absorbance":0.02},

    {"sample":"FTIR 30x","polarization":"A∥","wavenumber":780,"absorbance":0.025},{"sample":"FTIR 30x","polarization":"A∥","wavenumber":775,"absorbance":0.03},{"sample":"FTIR 30x","polarization":"A∥","wavenumber":771,"absorbance":0.04},{"sample":"FTIR 30x","polarization":"A∥","wavenumber":767,"absorbance":0.025},{"sample":"FTIR 30x","polarization":"A∥","wavenumber":762,"absorbance":0.03},{"sample":"FTIR 30x","polarization":"A∥","wavenumber":757,"absorbance":0.025},{"sample":"FTIR 30x","polarization":"A∥","wavenumber":752,"absorbance":0.03},{"sample":"FTIR 30x","polarization":"A∥","wavenumber":746,"absorbance":0.04},{"sample":"FTIR 30x","polarization":"A∥","wavenumber":742,"absorbance":0.025},{"sample":"FTIR 30x","polarization":"A∥","wavenumber":737,"absorbance":0.02},{"sample":"FTIR 30x","polarization":"A∥","wavenumber":734.8,"absorbance":0.025},{"sample":"FTIR 30x","polarization":"A∥","wavenumber":732,"absorbance":0.06},{"sample":"FTIR 30x","polarization":"A∥","wavenumber":730.5,"absorbance":0.087},{"sample":"FTIR 30x","polarization":"A∥","wavenumber":729,"absorbance":0.075},{"sample":"FTIR 30x","polarization":"A∥","wavenumber":727,"absorbance":0.035},{"sample":"FTIR 30x","polarization":"A∥","wavenumber":726,"absorbance":0.02},{"sample":"FTIR 30x","polarization":"A∥","wavenumber":724,"absorbance":0.04},{"sample":"FTIR 30x","polarization":"A∥","wavenumber":722,"absorbance":0.11},{"sample":"FTIR 30x","polarization":"A∥","wavenumber":719.9,"absorbance":0.16},{"sample":"FTIR 30x","polarization":"A∥","wavenumber":718,"absorbance":0.14},{"sample":"FTIR 30x","polarization":"A∥","wavenumber":715.3,"absorbance":0.087},{"sample":"FTIR 30x","polarization":"A∥","wavenumber":713,"absorbance":0.045},{"sample":"FTIR 30x","polarization":"A∥","wavenumber":711.2,"absorbance":0.02},{"sample":"FTIR 30x","polarization":"A∥","wavenumber":708,"absorbance":0.025},{"sample":"FTIR 30x","polarization":"A∥","wavenumber":703,"absorbance":0.03},{"sample":"FTIR 30x","polarization":"A∥","wavenumber":698,"absorbance":0.045},{"sample":"FTIR 30x","polarization":"A∥","wavenumber":694,"absorbance":0.03},{"sample":"FTIR 30x","polarization":"A∥","wavenumber":690,"absorbance":0.025},{"sample":"FTIR 30x","polarization":"A∥","wavenumber":685,"absorbance":0.035},{"sample":"FTIR 30x","polarization":"A∥","wavenumber":680,"absorbance":0.03},{"sample":"FTIR 30x","polarization":"A∥","wavenumber":675,"absorbance":0.025},{"sample":"FTIR 30x","polarization":"A∥","wavenumber":670,"absorbance":0.03},{"sample":"FTIR 30x","polarization":"A∥","wavenumber":665,"absorbance":0.025},{"sample":"FTIR 30x","polarization":"A∥","wavenumber":660,"absorbance":0.03},

    {"sample":"FTIR 0x","polarization":"A⊥","wavenumber":780,"absorbance":0.007},{"sample":"FTIR 0x","polarization":"A⊥","wavenumber":770,"absorbance":0.01},{"sample":"FTIR 0x","polarization":"A⊥","wavenumber":760,"absorbance":0.007},{"sample":"FTIR 0x","polarization":"A⊥","wavenumber":750,"absorbance":0.01},{"sample":"FTIR 0x","polarization":"A⊥","wavenumber":742,"absorbance":0.01},{"sample":"FTIR 0x","polarization":"A⊥","wavenumber":739,"absorbance":0.015},{"sample":"FTIR 0x","polarization":"A⊥","wavenumber":737.8,"absorbance":0.025},{"sample":"FTIR 0x","polarization":"A⊥","wavenumber":736,"absorbance":0.07},{"sample":"FTIR 0x","polarization":"A⊥","wavenumber":734.8,"absorbance":0.16},{"sample":"FTIR 0x","polarization":"A⊥","wavenumber":733.5,"absorbance":0.28},{"sample":"FTIR 0x","polarization":"A⊥","wavenumber":732.7,"absorbance":0.41},{"sample":"FTIR 0x","polarization":"A⊥","wavenumber":731.2,"absorbance":0.51},{"sample":"FTIR 0x","polarization":"A⊥","wavenumber":729.8,"absorbance":0.535},{"sample":"FTIR 0x","polarization":"A⊥","wavenumber":728.3,"absorbance":0.49},{"sample":"FTIR 0x","polarization":"A⊥","wavenumber":726.5,"absorbance":0.37},{"sample":"FTIR 0x","polarization":"A⊥","wavenumber":724.7,"absorbance":0.315},{"sample":"FTIR 0x","polarization":"A⊥","wavenumber":723,"absorbance":0.37},{"sample":"FTIR 0x","polarization":"A⊥","wavenumber":721.8,"absorbance":0.5},{"sample":"FTIR 0x","polarization":"A⊥","wavenumber":720.9,"absorbance":0.63},{"sample":"FTIR 0x","polarization":"A⊥","wavenumber":719.3,"absorbance":0.8},{"sample":"FTIR 0x","polarization":"A⊥","wavenumber":717.5,"absorbance":0.88},{"sample":"FTIR 0x","polarization":"A⊥","wavenumber":715.8,"absorbance":0.82},{"sample":"FTIR 0x","polarization":"A⊥","wavenumber":714.2,"absorbance":0.63},{"sample":"FTIR 0x","polarization":"A⊥","wavenumber":712.5,"absorbance":0.44},{"sample":"FTIR 0x","polarization":"A⊥","wavenumber":710.7,"absorbance":0.31},{"sample":"FTIR 0x","polarization":"A⊥","wavenumber":709,"absorbance":0.24},{"sample":"FTIR 0x","polarization":"A⊥","wavenumber":707.1,"absorbance":0.2},{"sample":"FTIR 0x","polarization":"A⊥","wavenumber":704,"absorbance":0.16},{"sample":"FTIR 0x","polarization":"A⊥","wavenumber":700,"absorbance":0.11},{"sample":"FTIR 0x","polarization":"A⊥","wavenumber":697,"absorbance":0.075},{"sample":"FTIR 0x","polarization":"A⊥","wavenumber":693.8,"absorbance":0.025},{"sample":"FTIR 0x","polarization":"A⊥","wavenumber":690,"absorbance":0.012},{"sample":"FTIR 0x","polarization":"A⊥","wavenumber":685,"absorbance":0.007},{"sample":"FTIR 0x","polarization":"A⊥","wavenumber":680,"absorbance":0.01},{"sample":"FTIR 0x","polarization":"A⊥","wavenumber":675,"absorbance":0.007},{"sample":"FTIR 0x","polarization":"A⊥","wavenumber":670,"absorbance":0.01},{"sample":"FTIR 0x","polarization":"A⊥","wavenumber":665,"absorbance":0.007},{"sample":"FTIR 0x","polarization":"A⊥","wavenumber":660,"absorbance":0.01},

    {"sample":"FTIR 0x","polarization":"A∥","wavenumber":780,"absorbance":0.007},{"sample":"FTIR 0x","polarization":"A∥","wavenumber":770,"absorbance":0.005},{"sample":"FTIR 0x","polarization":"A∥","wavenumber":760,"absorbance":0.008},{"sample":"FTIR 0x","polarization":"A∥","wavenumber":750,"absorbance":0.005},{"sample":"FTIR 0x","polarization":"A∥","wavenumber":740,"absorbance":0.007},{"sample":"FTIR 0x","polarization":"A∥","wavenumber":736.5,"absorbance":0.008},{"sample":"FTIR 0x","polarization":"A∥","wavenumber":734.8,"absorbance":0.02},{"sample":"FTIR 0x","polarization":"A∥","wavenumber":733.2,"absorbance":0.11},{"sample":"FTIR 0x","polarization":"A∥","wavenumber":731.8,"absorbance":0.2},{"sample":"FTIR 0x","polarization":"A∥","wavenumber":730.5,"absorbance":0.26},{"sample":"FTIR 0x","polarization":"A∥","wavenumber":729.4,"absorbance":0.27},{"sample":"FTIR 0x","polarization":"A∥","wavenumber":727.8,"absorbance":0.24},{"sample":"FTIR 0x","polarization":"A∥","wavenumber":726,"absorbance":0.17},{"sample":"FTIR 0x","polarization":"A∥","wavenumber":724.5,"absorbance":0.14},{"sample":"FTIR 0x","polarization":"A∥","wavenumber":723,"absorbance":0.17},{"sample":"FTIR 0x","polarization":"A∥","wavenumber":721.5,"absorbance":0.27},{"sample":"FTIR 0x","polarization":"A∥","wavenumber":720.3,"absorbance":0.38},{"sample":"FTIR 0x","polarization":"A∥","wavenumber":718.8,"absorbance":0.48},{"sample":"FTIR 0x","polarization":"A∥","wavenumber":717.5,"absorbance":0.51},{"sample":"FTIR 0x","polarization":"A∥","wavenumber":716,"absorbance":0.47},{"sample":"FTIR 0x","polarization":"A∥","wavenumber":714.2,"absorbance":0.31},{"sample":"FTIR 0x","polarization":"A∥","wavenumber":712.5,"absorbance":0.2},{"sample":"FTIR 0x","polarization":"A∥","wavenumber":711.2,"absorbance":0.16},{"sample":"FTIR 0x","polarization":"A∥","wavenumber":709,"absorbance":0.12},{"sample":"FTIR 0x","polarization":"A∥","wavenumber":707.1,"absorbance":0.1},{"sample":"FTIR 0x","polarization":"A∥","wavenumber":703,"absorbance":0.075},{"sample":"FTIR 0x","polarization":"A∥","wavenumber":699,"absorbance":0.05},{"sample":"FTIR 0x","polarization":"A∥","wavenumber":695,"absorbance":0.025},{"sample":"FTIR 0x","polarization":"A∥","wavenumber":692,"absorbance":0.012},{"sample":"FTIR 0x","polarization":"A∥","wavenumber":688,"absorbance":0.007},{"sample":"FTIR 0x","polarization":"A∥","wavenumber":680,"absorbance":0.005},{"sample":"FTIR 0x","polarization":"A∥","wavenumber":670,"absorbance":0.008},{"sample":"FTIR 0x","polarization":"A∥","wavenumber":660,"absorbance":0.005}
  ]
},
"spacing": 16,
"hconcat": [
  {"vconcat": [
    {"title": {"text": "a", "anchor": "start", "frame": "bounds", "fontSize": 26, "dy": 20},
     "spacing": 0, "bounds": "flush",
     "vconcat": [
      {"width": 377, "height": 134.4,
       "title": {"text": "Neat PE - WAXD", "offset": 9},
       "layer": [
        {"data": {"name": "refsA"}, "mark": {"type": "rule", "color": "#c4c4c4", "strokeWidth": 1.5, "strokeDash": [9, 3, 2, 3]},
         "encoding": {"x": {"field": "twotheta", "type": "quantitative", "scale": {"domain": [10, 30], "nice": false, "zero": false}, "axis": null}}},
        {"data": {"name": "waxd"}, "transform": [{"filter": "datum.sample === 'PE 60x'"}], "mark": {"type": "line", "color": "#1a2d4d", "strokeWidth": 2, "interpolate": "monotone"},
         "encoding": {"x": {"field": "twotheta", "type": "quantitative", "scale": {"domain": [10, 30], "nice": false, "zero": false}, "axis": null},
                      "y": {"field": "intensity", "type": "quantitative", "scale": {"domain": [0, 1], "nice": false, "zero": false}, "axis": null}}},
        {"data": {"name": "notes"}, "transform": [{"filter": "datum.sample === 'PE 60x'"}], "mark": {"type": "text", "align": "left", "baseline": "top", "lineBreak": "\n", "lineHeight": 28},
         "encoding": {"x": {"datum": 10.37, "type": "quantitative", "scale": {"domain": [10, 30], "nice": false, "zero": false}, "axis": null},
                      "y": {"datum": 0.935, "type": "quantitative", "scale": {"domain": [0, 1], "nice": false, "zero": false}, "axis": null}, "text": {"field": "note"}}}
       ]},
      {"width": 377, "height": 134.4,
       "layer": [
        {"data": {"name": "refsA"}, "mark": {"type": "rule", "color": "#c4c4c4", "strokeWidth": 1.5, "strokeDash": [9, 3, 2, 3]},
         "encoding": {"x": {"field": "twotheta", "type": "quantitative", "scale": {"domain": [10, 30], "nice": false, "zero": false}, "axis": null}}},
        {"data": {"name": "waxd"}, "transform": [{"filter": "datum.sample === 'PE 30x'"}], "mark": {"type": "line", "color": "#1a2d4d", "strokeWidth": 2, "interpolate": "monotone"},
         "encoding": {"x": {"field": "twotheta", "type": "quantitative", "scale": {"domain": [10, 30], "nice": false, "zero": false}, "axis": null},
                      "y": {"field": "intensity", "type": "quantitative", "scale": {"domain": [0, 1], "nice": false, "zero": false}, "axis": null}}},
        {"data": {"name": "notes"}, "transform": [{"filter": "datum.sample === 'PE 30x'"}], "mark": {"type": "text", "align": "left", "baseline": "top", "lineBreak": "\n", "lineHeight": 28},
         "encoding": {"x": {"datum": 10.4, "type": "quantitative", "scale": {"domain": [10, 30], "nice": false, "zero": false}, "axis": null},
                      "y": {"datum": 0.935, "type": "quantitative", "scale": {"domain": [0, 1], "nice": false, "zero": false}, "axis": null}, "text": {"field": "note"}}}
       ]},
      {"width": 377, "height": 134.4,
       "layer": [
        {"data": {"name": "refsA"}, "mark": {"type": "rule", "color": "#c4c4c4", "strokeWidth": 1.5, "strokeDash": [9, 3, 2, 3]},
         "encoding": {"x": {"field": "twotheta", "type": "quantitative", "scale": {"domain": [10, 30], "nice": false, "zero": false}, "axis": null}}},
        {"data": {"name": "refsA"}, "mark": {"type": "text", "angle": 270, "align": "center", "baseline": "middle", "dy": 17},
         "encoding": {"x": {"field": "twotheta", "type": "quantitative", "scale": {"domain": [10, 30], "nice": false, "zero": false}, "axis": null},
                      "y": {"datum": 0.69, "type": "quantitative", "scale": {"domain": [0, 1], "nice": false, "zero": false}, "axis": {"title": "Intensity (arb. units)", "labels": false, "ticks": false, "domain": false, "titlePadding": 25}},
                      "text": {"field": "hkl"}}},
        {"data": {"name": "waxd"}, "transform": [{"filter": "datum.sample === 'PE 10x'"}], "mark": {"type": "line", "color": "#1a2d4d", "strokeWidth": 2, "interpolate": "monotone"},
         "encoding": {"x": {"field": "twotheta", "type": "quantitative", "scale": {"domain": [10, 30], "nice": false, "zero": false}, "axis": null},
                      "y": {"field": "intensity", "type": "quantitative", "scale": {"domain": [0, 1], "nice": false, "zero": false}, "axis": {"title": "Intensity (arb. units)", "labels": false, "ticks": false, "domain": false, "titlePadding": 25}}}},
        {"data": {"name": "notes"}, "transform": [{"filter": "datum.sample === 'PE 10x'"}], "mark": {"type": "text", "align": "left", "baseline": "top", "lineBreak": "\n", "lineHeight": 28},
         "encoding": {"x": {"datum": 10.35, "type": "quantitative", "scale": {"domain": [10, 30], "nice": false, "zero": false}, "axis": null},
                      "y": {"datum": 0.935, "type": "quantitative", "scale": {"domain": [0, 1], "nice": false, "zero": false}, "axis": {"title": "Intensity (arb. units)", "labels": false, "ticks": false, "domain": false, "titlePadding": 25}}, "text": {"field": "note"}}}
       ]},
      {"width": 377, "height": 134.4,
       "layer": [
        {"data": {"name": "refsA"}, "mark": {"type": "rule", "color": "#c4c4c4", "strokeWidth": 1.5, "strokeDash": [9, 3, 2, 3]},
         "encoding": {"x": {"field": "twotheta", "type": "quantitative", "scale": {"domain": [10, 30], "nice": false, "zero": false}, "axis": null}}},
        {"data": {"name": "waxd"}, "transform": [{"filter": "datum.sample === 'PE 0x'"}], "mark": {"type": "line", "color": "#1a2d4d", "strokeWidth": 2},
         "encoding": {"x": {"field": "twotheta", "type": "quantitative", "scale": {"domain": [10, 30], "nice": false, "zero": false}, "axis": null},
                      "y": {"field": "intensity", "type": "quantitative", "scale": {"domain": [0, 1], "nice": false, "zero": false}, "axis": null}}},
        {"data": {"name": "notes"}, "transform": [{"filter": "datum.sample === 'PE 0x'"}], "mark": {"type": "text", "align": "left", "baseline": "top", "lineBreak": "\n", "lineHeight": 28},
         "encoding": {"x": {"datum": 10.62, "type": "quantitative", "scale": {"domain": [10, 30], "nice": false, "zero": false}, "axis": null},
                      "y": {"datum": 0.94, "type": "quantitative", "scale": {"domain": [0, 1], "nice": false, "zero": false}, "axis": null}, "text": {"field": "note"}}}
       ]},
      {"width": 377, "height": 134.4,
       "layer": [
        {"data": {"name": "refsA"}, "mark": {"type": "rule", "color": "#c4c4c4", "strokeWidth": 1.5, "strokeDash": [9, 3, 2, 3]},
         "encoding": {"x": {"field": "twotheta", "type": "quantitative", "scale": {"domain": [10, 30], "nice": false, "zero": false}, "axis": {"values": [10, 12.5, 15, 17.5, 20, 22.5, 25, 27.5, 30], "labelExpr": "datum.value % 5 === 0 ? datum.label : ''", "title": "2θ (degree)", "labelPadding": 6, "titlePadding": 2}}}},
        {"data": {"name": "waxd"}, "transform": [{"filter": "datum.sample === 'PE powder'"}], "mark": {"type": "line", "color": "#1a2d4d", "strokeWidth": 2, "interpolate": "monotone"},
         "encoding": {"x": {"field": "twotheta", "type": "quantitative", "scale": {"domain": [10, 30], "nice": false, "zero": false}, "axis": {"values": [10, 12.5, 15, 17.5, 20, 22.5, 25, 27.5, 30], "labelExpr": "datum.value % 5 === 0 ? datum.label : ''", "title": "2θ (degree)", "labelPadding": 6, "titlePadding": 2}},
                      "y": {"field": "intensity", "type": "quantitative", "scale": {"domain": [0, 1], "nice": false, "zero": false}, "axis": null}}},
        {"data": {"name": "notes"}, "transform": [{"filter": "datum.sample === 'PE powder'"}], "mark": {"type": "text", "align": "left", "baseline": "top", "lineBreak": "\n", "lineHeight": 28},
         "encoding": {"x": {"datum": 10.37, "type": "quantitative", "scale": {"domain": [10, 30], "nice": false, "zero": false}, "axis": {"values": [10, 12.5, 15, 17.5, 20, 22.5, 25, 27.5, 30], "labelExpr": "datum.value % 5 === 0 ? datum.label : ''", "title": "2θ (degree)", "labelPadding": 6, "titlePadding": 2}},
                      "y": {"datum": 0.94, "type": "quantitative", "scale": {"domain": [0, 1], "nice": false, "zero": false}, "axis": null}, "text": {"field": "note"}}}
       ]}
     ]}
  ]},
  {"concat": [
    {"hconcat": [
      {"title": {"text": "b", "anchor": "start", "frame": "bounds", "fontSize": 26, "dy": 20},
       "spacing": 0, "bounds": "flush",
       "vconcat": [
        {"width": 389, "height": 135,
         "title": {"text": "PE/TrGO Composite - WAXD", "offset": 9},
         "layer": [
          {"data": {"name": "refsB"}, "mark": {"type": "rule", "color": "#c4c4c4", "strokeWidth": 1.5, "strokeDash": [9, 3, 2, 3]},
           "encoding": {"x": {"field": "twotheta", "type": "quantitative", "scale": {"domain": [10, 30], "nice": false, "zero": false}, "axis": null}}},
          {"data": {"name": "waxd"}, "transform": [{"filter": "datum.sample === 'Comp 60x'"}], "mark": {"type": "line", "color": "#e8a317", "strokeWidth": 2, "interpolate": "monotone"},
           "encoding": {"x": {"field": "twotheta", "type": "quantitative", "scale": {"domain": [10, 30], "nice": false, "zero": false}, "axis": null},
                        "y": {"field": "intensity", "type": "quantitative", "scale": {"domain": [0, 1], "nice": false, "zero": false}, "axis": null}}},
          {"data": {"name": "notes"}, "transform": [{"filter": "datum.sample === 'Comp 60x'"}], "mark": {"type": "text", "align": "left", "baseline": "top", "lineBreak": "\n", "lineHeight": 28.5},
           "encoding": {"x": {"datum": 10.34, "type": "quantitative", "scale": {"domain": [10, 30], "nice": false, "zero": false}, "axis": null},
                        "y": {"datum": 0.93, "type": "quantitative", "scale": {"domain": [0, 1], "nice": false, "zero": false}, "axis": null}, "text": {"field": "note"}}}
         ]},
        {"width": 389, "height": 135,
         "layer": [
          {"data": {"name": "refsB"}, "mark": {"type": "rule", "color": "#c4c4c4", "strokeWidth": 1.5, "strokeDash": [9, 3, 2, 3]},
           "encoding": {"x": {"field": "twotheta", "type": "quantitative", "scale": {"domain": [10, 30], "nice": false, "zero": false}, "axis": null}}},
          {"data": {"name": "refsB"}, "mark": {"type": "text", "angle": 270, "align": "center", "baseline": "middle", "dy": 20},
           "encoding": {"x": {"field": "twotheta", "type": "quantitative", "scale": {"domain": [10, 30], "nice": false, "zero": false}, "axis": null},
                        "y": {"datum": 0.705, "type": "quantitative", "scale": {"domain": [0, 1], "nice": false, "zero": false}, "axis": {"title": "Intensity (arb. units)", "labels": false, "ticks": false, "domain": false, "titlePadding": 13}},
                        "text": {"field": "hkl"}}},
          {"data": {"name": "waxd"}, "transform": [{"filter": "datum.sample === 'Comp 30x'"}], "mark": {"type": "line", "color": "#e8a317", "strokeWidth": 2, "interpolate": "monotone"},
           "encoding": {"x": {"field": "twotheta", "type": "quantitative", "scale": {"domain": [10, 30], "nice": false, "zero": false}, "axis": null},
                        "y": {"field": "intensity", "type": "quantitative", "scale": {"domain": [0, 1], "nice": false, "zero": false}, "axis": {"title": "Intensity (arb. units)", "labels": false, "ticks": false, "domain": false, "titlePadding": 13}}}},
          {"data": {"name": "notes"}, "transform": [{"filter": "datum.sample === 'Comp 30x'"}], "mark": {"type": "text", "align": "left", "baseline": "top", "lineBreak": "\n", "lineHeight": 28.5},
           "encoding": {"x": {"datum": 10.34, "type": "quantitative", "scale": {"domain": [10, 30], "nice": false, "zero": false}, "axis": null},
                        "y": {"datum": 0.93, "type": "quantitative", "scale": {"domain": [0, 1], "nice": false, "zero": false}, "axis": {"title": "Intensity (arb. units)", "labels": false, "ticks": false, "domain": false, "titlePadding": 13}}, "text": {"field": "note"}}}
         ]},
        {"width": 389, "height": 135,
         "layer": [
          {"data": {"name": "refsB"}, "mark": {"type": "rule", "color": "#c4c4c4", "strokeWidth": 1.5, "strokeDash": [9, 3, 2, 3]},
           "encoding": {"x": {"field": "twotheta", "type": "quantitative", "scale": {"domain": [10, 30], "nice": false, "zero": false}, "axis": {"values": [10, 12.5, 15, 17.5, 20, 22.5, 25, 27.5, 30], "labelExpr": "datum.value % 5 === 0 ? datum.label : ''", "title": "2θ (degree)", "labelPadding": 8, "titlePadding": 5}}}},
          {"data": {"name": "waxd"}, "transform": [{"filter": "datum.sample === 'Comp 10x'"}], "mark": {"type": "line", "color": "#e8a317", "strokeWidth": 2, "interpolate": "monotone"},
           "encoding": {"x": {"field": "twotheta", "type": "quantitative", "scale": {"domain": [10, 30], "nice": false, "zero": false}, "axis": {"values": [10, 12.5, 15, 17.5, 20, 22.5, 25, 27.5, 30], "labelExpr": "datum.value % 5 === 0 ? datum.label : ''", "title": "2θ (degree)", "labelPadding": 8, "titlePadding": 5}},
                        "y": {"field": "intensity", "type": "quantitative", "scale": {"domain": [0, 1], "nice": false, "zero": false}, "axis": null}}},
          {"data": {"name": "notes"}, "transform": [{"filter": "datum.sample === 'Comp 10x'"}], "mark": {"type": "text", "align": "left", "baseline": "top", "lineBreak": "\n", "lineHeight": 28.5},
           "encoding": {"x": {"datum": 10.34, "type": "quantitative", "scale": {"domain": [10, 30], "nice": false, "zero": false}, "axis": {"values": [10, 12.5, 15, 17.5, 20, 22.5, 25, 27.5, 30], "labelExpr": "datum.value % 5 === 0 ? datum.label : ''", "title": "2θ (degree)", "labelPadding": 8, "titlePadding": 5}},
                        "y": {"datum": 0.93, "type": "quantitative", "scale": {"domain": [0, 1], "nice": false, "zero": false}, "axis": null}, "text": {"field": "note"}}}
         ]}
       ]},
      {"title": {"text": "c", "anchor": "start", "frame": "bounds", "fontSize": 26, "dy": 20},
       "spacing": 0, "bounds": "flush",
       "resolve": {"scale": {"color": "independent"}},
       "vconcat": [
        {"width": 390, "height": 135,
         "title": {"text": "PE/TrGO Composite – Polarized FTIR", "offset": 9},
         "layer": [
          {"data": {"name": "ftir"}, "transform": [{"filter": "datum.sample === 'FTIR 60x'"}], "mark": {"type": "line", "strokeWidth": 2, "interpolate": "monotone"},
           "encoding": {"x": {"field": "wavenumber", "type": "quantitative", "scale": {"domain": [660, 780], "reverse": true, "nice": false, "zero": false}, "axis": null},
                        "y": {"field": "absorbance", "type": "quantitative", "scale": {"domain": [0, 1], "nice": false, "zero": false}, "axis": null},
                        "color": {"field": "polarization", "type": "nominal", "scale": {"domain": ["A⊥", "A∥"], "range": ["#1a2d4d", "#e8a317"]},
                                  "legend": {"orient": "top-right", "offset": 6, "title": null, "symbolType": "stroke", "symbolStrokeWidth": 2.5, "symbolSize": 1800, "clipHeight": 22, "labelFontSize": 20, "labelColor": "#111", "rowPadding": 8, "labelOffset": 10, "padding": 0}}}},
          {"data": {"name": "notes"}, "transform": [{"filter": "datum.sample === 'FTIR 60x'"}], "mark": {"type": "text", "align": "left", "baseline": "top", "lineBreak": "\n", "lineHeight": 28.5},
           "encoding": {"x": {"datum": 776.8, "type": "quantitative", "scale": {"domain": [660, 780], "reverse": true, "nice": false, "zero": false}, "axis": null},
                        "y": {"datum": 0.94, "type": "quantitative", "scale": {"domain": [0, 1], "nice": false, "zero": false}, "axis": null}, "text": {"field": "note"}}}
         ]},
        {"width": 390, "height": 135,
         "layer": [
          {"data": {"name": "ftir"}, "transform": [{"filter": "datum.sample === 'FTIR 30x'"}], "mark": {"type": "line", "strokeWidth": 2, "interpolate": "monotone"},
           "encoding": {"x": {"field": "wavenumber", "type": "quantitative", "scale": {"domain": [660, 780], "reverse": true, "nice": false, "zero": false}, "axis": null},
                        "y": {"field": "absorbance", "type": "quantitative", "scale": {"domain": [0, 1], "nice": false, "zero": false}, "axis": {"title": "Absorbance (arb. units)", "labels": false, "ticks": false, "domain": false, "titlePadding": 11}},
                        "color": {"field": "polarization", "type": "nominal", "scale": {"domain": ["A⊥", "A∥"], "range": ["#1a2d4d", "#e8a317"]}, "legend": null}}},
          {"data": {"name": "notes"}, "transform": [{"filter": "datum.sample === 'FTIR 30x'"}], "mark": {"type": "text", "align": "left", "baseline": "top", "lineBreak": "\n", "lineHeight": 28.5},
           "encoding": {"x": {"datum": 776.8, "type": "quantitative", "scale": {"domain": [660, 780], "reverse": true, "nice": false, "zero": false}, "axis": null},
                        "y": {"datum": 0.94, "type": "quantitative", "scale": {"domain": [0, 1], "nice": false, "zero": false}, "axis": {"title": "Absorbance (arb. units)", "labels": false, "ticks": false, "domain": false, "titlePadding": 11}}, "text": {"field": "note"}}}
         ]},
        {"width": 390, "height": 135,
         "layer": [
          {"data": {"name": "ftir"}, "transform": [{"filter": "datum.sample === 'FTIR 0x'"}], "mark": {"type": "line", "strokeWidth": 2, "interpolate": "monotone"},
           "encoding": {"x": {"field": "wavenumber", "type": "quantitative", "scale": {"domain": [660, 780], "reverse": true, "nice": false, "zero": false}, "axis": {"values": [780, 770, 760, 750, 740, 730, 720, 710, 700, 690, 680, 670, 660], "labelExpr": "datum.value % 20 === 0 ? datum.label : ''", "title": "Wavenumber (cm⁻¹)", "labelPadding": 8, "titlePadding": 5}},
                        "y": {"field": "absorbance", "type": "quantitative", "scale": {"domain": [0, 1], "nice": false, "zero": false}, "axis": null},
                        "color": {"field": "polarization", "type": "nominal", "scale": {"domain": ["A⊥", "A∥"], "range": ["#1a2d4d", "#e8a317"]}, "legend": null}}},
          {"data": {"name": "notes"}, "transform": [{"filter": "datum.sample === 'FTIR 0x'"}], "mark": {"type": "text", "align": "left", "baseline": "top", "lineBreak": "\n", "lineHeight": 28.5},
           "encoding": {"x": {"datum": 776.8, "type": "quantitative", "scale": {"domain": [660, 780], "reverse": true, "nice": false, "zero": false}, "axis": {"values": [780, 770, 760, 750, 740, 730, 720, 710, 700, 690, 680, 670, 660], "labelExpr": "datum.value % 20 === 0 ? datum.label : ''", "title": "Wavenumber (cm⁻¹)", "labelPadding": 8, "titlePadding": 5}},
                        "y": {"datum": 0.94, "type": "quantitative", "scale": {"domain": [0, 1], "nice": false, "zero": false}, "axis": null}, "text": {"field": "note"}}}
         ]}
       ]}
    ], "spacing": 18},
    {"width": 841, "height": 160,
     "title": {"text": "S₂₀₀ / S₁₁₀", "fontSize": 21, "offset": 4},
     "view": {"stroke": null},
     "layer": [
      {"data": {"name": "table"}, "mark": {"type": "text", "fontSize": 22, "dx": -9, "dy": 4},
       "encoding": {"x": {"field": "col", "type": "nominal", "scale": {"domain": ["ratio", "neat", "comp"], "paddingInner": 0, "paddingOuter": 0}, "axis": null},
                    "y": {"field": "row", "type": "nominal", "scale": {"domain": ["header", "60", "30", "10"], "paddingInner": 0, "paddingOuter": 0}, "axis": {"title": null, "labels": false, "ticks": false, "domain": false, "minExtent": 31, "maxExtent": 31}},
                    "text": {"field": "text"}}},
      {"data": {"name": "tableRules"}, "transform": [{"filter": "datum.edge === 'top'"}], "mark": {"type": "rule", "color": "#666", "strokeWidth": 1.6},
       "encoding": {"y": {"field": "row", "type": "nominal", "bandPosition": 0, "scale": {"domain": ["header", "60", "30", "10"], "paddingInner": 0, "paddingOuter": 0}, "axis": {"title": null, "labels": false, "ticks": false, "domain": false, "minExtent": 31, "maxExtent": 31}}}},
      {"data": {"name": "tableRules"}, "transform": [{"filter": "datum.edge === 'bottom'"}], "mark": {"type": "rule", "color": "#888", "strokeWidth": 1.6},
       "encoding": {"y": {"field": "row", "type": "nominal", "bandPosition": 1, "scale": {"domain": ["header", "60", "30", "10"], "paddingInner": 0, "paddingOuter": 0}, "axis": {"title": null, "labels": false, "ticks": false, "domain": false, "minExtent": 31, "maxExtent": 31}}}}
     ]}
  ], "columns": 1, "align": "none", "spacing": 17}
]
}
